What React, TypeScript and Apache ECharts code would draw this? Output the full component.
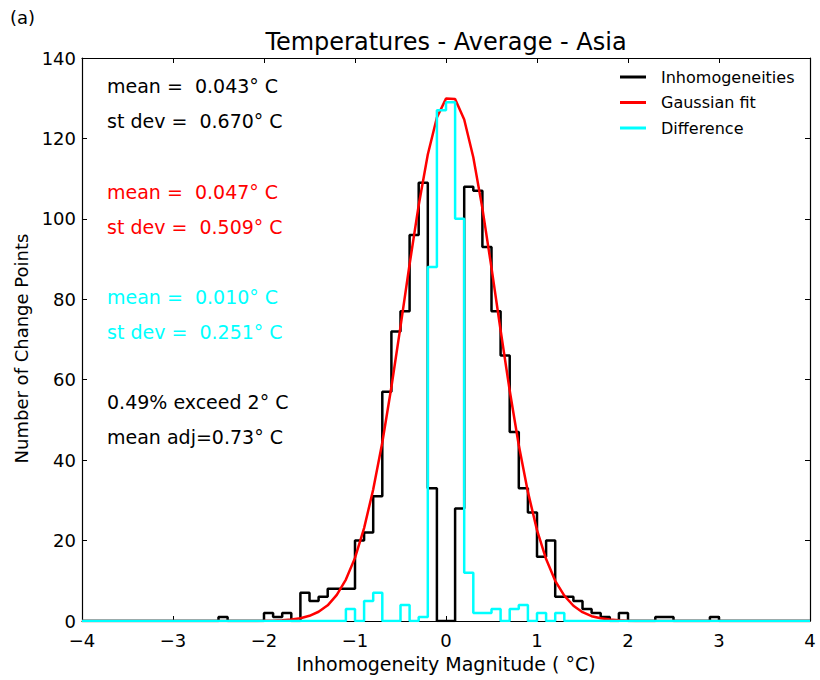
import React, { useEffect, useRef } from "react";
import * as echarts from "echarts";

// Histogram bins: 80 bins of width 0.1 from -4 to 4
const BIN_START = -4;
const BIN_WIDTH = 0.1;

const inhomogeneities = [
  0, 0, 0, 0, 0, 0, 0, 0, 0, 0,
  0, 0, 0, 0, 0, 1, 0, 0, 0, 0,
  2, 1, 2, 0, 7, 5, 6, 8, 8, 8,
  20, 22, 31, 57, 72, 77, 96, 109, 33, 0,
  0, 28, 108, 107, 93, 77, 66, 47, 33, 27,
  16, 20, 6, 6, 5, 3, 2, 1, 0, 2,
  0, 0, 0, 1, 1, 0, 0, 0, 0, 1,
  0, 0, 0, 0, 0, 0, 0, 0, 0, 0,
];

const difference = [
  0, 0, 0, 0, 0, 0, 0, 0, 0, 0,
  0, 0, 0, 0, 0, 0, 0, 0, 0, 0,
  0, 0, 0, 0, 0, 0, 0, 0, 0, 3,
  0, 5, 7, 0, 0, 4, 0, 1, 88, 127,
  129, 100, 12, 2, 2, 3, 0, 3, 4, 0,
  2, 0, 2, 0, 0, 0, 0, 0, 0, 0,
  0, 0, 0, 0, 0, 0, 0, 0, 0, 0,
  0, 0, 0, 0, 0, 0, 0, 0, 0, 0,
];

// Gaussian fit curve sampled every 0.1 from -4 to 4
const FIT_START = -4;
const FIT_STEP = 0.1;
const gaussianFit = [
  0, 0, 0, 0, 0, 0, 0, 0, 0, 0,
  0, 0, 0, 0, 0, 0, 0, 0, 0, 0,
  0.04, 0.09, 0.18, 0.36, 0.7, 1.3, 2.3, 3.9, 6.5, 10.3,
  15.7, 23.1, 32.7, 44.4, 58.2, 73.2, 88.7, 103.4, 116.0, 125.2,
  129.9, 129.8, 124.7, 115.3, 102.6, 87.8, 72.3, 57.3, 43.7, 32.1,
  22.6, 15.4, 10.0, 6.3, 3.8, 2.2, 1.2, 0.67, 0.35, 0.17,
  0.08, 0, 0, 0, 0, 0, 0, 0, 0, 0,
  0, 0, 0, 0, 0, 0, 0, 0, 0, 0,
  0,
];

const seriesNames = ["Inhomogeneities", "Gaussian fit", "Difference"];
const seriesColors = ["#000000", "#ff0000", "#00ffff"];

const statsLines = [
  { text: "mean =  0.043° C", color: "#000000", y: 86 },
  { text: "st dev =  0.670° C", color: "#000000", y: 121 },
  { text: "mean =  0.047° C", color: "#ff0000", y: 192 },
  { text: "st dev =  0.509° C", color: "#ff0000", y: 227 },
  { text: "mean =  0.010° C", color: "#00ffff", y: 297 },
  { text: "st dev =  0.251° C", color: "#00ffff", y: 332 },
  { text: "0.49% exceed 2° C", color: "#000000", y: 402 },
  { text: "mean adj=0.73° C", color: "#000000", y: 437 },
];

const FONT = '"DejaVu Sans", "Liberation Sans", sans-serif';

function stepPoints(counts: number[]): [number, number][] {
  const pts: [number, number][] = [[BIN_START, 0]];
  counts.forEach((c, i) => {
    const x0 = +(BIN_START + i * BIN_WIDTH).toFixed(2);
    const x1 = +(BIN_START + (i + 1) * BIN_WIDTH).toFixed(2);
    pts.push([x0, c], [x1, c]);
  });
  pts.push([+(BIN_START + counts.length * BIN_WIDTH).toFixed(2), 0]);
  return pts;
}

function fitPoints(vals: number[]): [number, number][] {
  return vals.map((v, i) => [+(FIT_START + i * FIT_STEP).toFixed(2), v]);
}

const fmtMinus = (v: number) => (v < 0 ? "\u2212" + String(-v) : String(v));

export default function App() {
  const ref = useRef<HTMLDivElement>(null);
  useEffect(() => {
    if (!ref.current) return;
    const chart = echarts.init(ref.current, undefined, { renderer: "svg" });
    const tickCommon = { inside: true, length: 5, lineStyle: { color: "#000", width: 1 } };
    const lineCommon = { show: true, onZero: false, lineStyle: { color: "#000", width: 1.2 } };
    chart.setOption({
      animation: false,
      backgroundColor: "#ffffff",
      textStyle: { fontFamily: FONT },
      title: {
        text: "Temperatures - Average - Asia",
        left: 446,
        textAlign: "center",
        top: 30,
        padding: 0,
        textStyle: { fontFamily: FONT, fontSize: 24, fontWeight: "normal", color: "#000" },
      },
      legend: {
        orient: "vertical",
        left: 620,
        top: 69,
        padding: 0,
        itemWidth: 26,
        itemHeight: 3,
        itemGap: 9.5,
        icon: "rect",
        data: seriesNames,
        textStyle: { fontFamily: FONT, fontSize: 16, color: "#000", padding: [0, 0, 0, 10] },
      },
      grid: { left: 82, right: 10, top: 58, bottom: 59, show: false },
      xAxis: [
        {
          type: "value",
          min: -4,
          max: 4,
          interval: 1,
          position: "bottom",
          name: "Inhomogeneity Magnitude ( °C)",
          nameLocation: "middle",
          nameGap: 31,
          nameTextStyle: { fontFamily: FONT, fontSize: 19, color: "#000" },
          axisLine: lineCommon,
          axisTick: tickCommon,
          axisLabel: { formatter: fmtMinus, fontFamily: FONT, fontSize: 18, lineHeight: 15, color: "#000", margin: 12 },
          splitLine: { show: false },
        },
        {
          type: "value",
          min: -4,
          max: 4,
          interval: 1,
          position: "top",
          axisLine: lineCommon,
          axisTick: tickCommon,
          axisLabel: { show: false },
          splitLine: { show: false },
        },
      ],
      yAxis: [
        {
          type: "value",
          min: 0,
          max: 140,
          interval: 20,
          position: "left",
          name: "Number of Change Points",
          nameLocation: "middle",
          nameGap: 51,
          nameTextStyle: { fontFamily: FONT, fontSize: 18, color: "#000", padding: [0, 18, 0, 0] },
          axisLine: lineCommon,
          axisTick: tickCommon,
          axisLabel: { fontFamily: FONT, fontSize: 18, lineHeight: 15, color: "#000", margin: 6 },
          splitLine: { show: false },
        },
        {
          type: "value",
          min: 0,
          max: 140,
          interval: 20,
          position: "right",
          axisLine: lineCommon,
          axisTick: tickCommon,
          axisLabel: { show: false },
          splitLine: { show: false },
        },
      ],
      series: [
        {
          name: seriesNames[0],
          type: "line",
          xAxisIndex: 0,
          yAxisIndex: 0,
          data: stepPoints(inhomogeneities),
          symbol: "none",
          color: seriesColors[0],
          lineStyle: { color: seriesColors[0], width: 2.5 },
          z: 2,
        },
        {
          name: seriesNames[1],
          type: "line",
          xAxisIndex: 0,
          yAxisIndex: 0,
          data: fitPoints(gaussianFit),
          symbol: "none",
          color: seriesColors[1],
          lineStyle: { color: seriesColors[1], width: 2.5 },
          z: 3,
        },
        {
          name: seriesNames[2],
          type: "line",
          xAxisIndex: 0,
          yAxisIndex: 0,
          data: stepPoints(difference),
          symbol: "none",
          color: seriesColors[2],
          lineStyle: { color: seriesColors[2], width: 2.5 },
          z: 4,
        },
      ],
      graphic: [
        {
          type: "text",
          x: 10,
          y: 17,
          style: { text: "(a)", fill: "#000", font: `18px ${FONT}`, verticalAlign: "middle" },
        },
        ...statsLines.map((s) => ({
          type: "text",
          x: 107,
          y: s.y,
          style: { text: s.text, fill: s.color, font: `19px ${FONT}`, verticalAlign: "middle" },
        })),
      ],
    });
    return () => chart.dispose();
  }, []);
  return (
    <div
      ref={ref}
      style={{ position: "absolute", left: 0, top: 0, width: 820, height: 680 }}
    />
  );
}
